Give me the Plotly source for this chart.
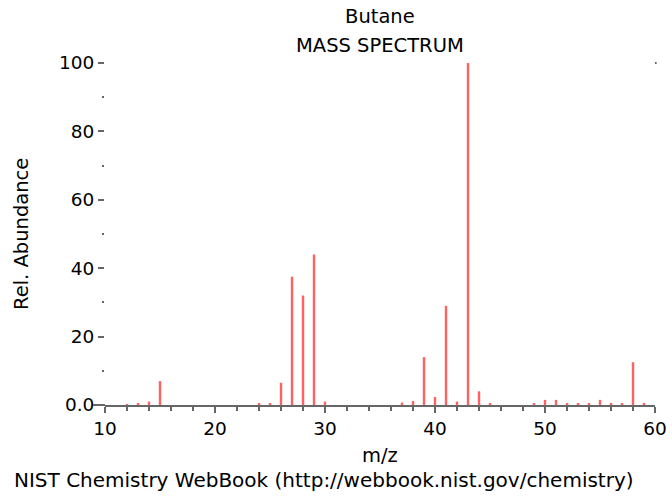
import plotly.graph_objects as go

# m/z values and relative abundances
mz = [12, 13, 14, 15, 24, 25, 26, 27, 28, 29, 30, 37, 38, 39, 40, 41, 42, 43, 44,
      45, 49, 50, 51, 52, 53, 54, 55, 56, 57, 58, 59]
abundance = [0.2, 0.4, 1.0, 7.0, 0.3, 0.6, 6.5, 37.5, 32.0, 44.0, 1.0, 0.7, 1.2,
             14.0, 2.3, 29.0, 1.0, 100.0, 4.0, 0.3, 0.3, 1.5, 1.5, 0.3, 0.6, 0.3,
             1.5, 0.6, 0.3, 12.5, 0.6]

title_line1 = "Butane"
title_line2 = "MASS SPECTRUM"
x_title = "m/z"
y_title = "Rel. Abundance"
footer = "NIST Chemistry WebBook (http://webbook.nist.gov/chemistry)"
y_tickvals = [0, 20, 40, 60, 80, 100]
y_ticktext = ["0.0", "20", "40", "60", "80", "100"]
x_tickvals = [10, 20, 30, 40, 50, 60]

FONT = "DejaVu Sans"
RED = "#ff6262"
GRAY = "#666666"
TXT = 19.5
TICK = 18.5

fig = go.Figure()
fig.add_trace(go.Bar(x=mz, y=abundance, width=0.22,
                     marker=dict(color=RED, line=dict(width=0))))

fig.update_layout(
    width=672, height=499,
    margin=dict(l=105, r=17, t=63, b=94, autoexpand=False),
    paper_bgcolor="white", plot_bgcolor="white",
    showlegend=False,
    font=dict(family=FONT, size=TXT, color="black"),
    xaxis=dict(range=[10, 60], tickvals=x_tickvals, showgrid=False, zeroline=False,
               automargin=False,
               showline=True, linecolor=GRAY, linewidth=2,
               ticks="outside", ticklen=6, tickwidth=2, tickcolor=GRAY,
               minor=dict(dtick=2, ticks="outside", ticklen=4, tickwidth=2, tickcolor=GRAY),
               tickfont=dict(size=TICK)),
    yaxis=dict(range=[0, 100], tickvals=y_tickvals, ticktext=y_ticktext,
               showgrid=False, zeroline=False, showline=False, automargin=False,
               ticks="outside", ticklen=6, tickwidth=2, tickcolor=GRAY,
               minor=dict(tickvals=[10, 30, 50, 70, 90], ticks="outside", ticklen=2,
                          tickwidth=2, tickcolor=GRAY),
               tickfont=dict(size=TICK)),
    shapes=[
        dict(type="line", xref="paper", yref="paper", x0=-12 / 550, x1=0, y0=0, y1=0,
             line=dict(color=GRAY, width=2)),
        dict(type="line", xref="paper", yref="paper", x0=1, x1=1.003, y0=1, y1=1,
             line=dict(color=GRAY, width=2)),
    ],
    annotations=[
        dict(text=title_line1, xref="paper", yref="paper", x=0.5, y=1, yshift=47,
             showarrow=False, xanchor="center", yanchor="middle", font=dict(size=TXT)),
        dict(text=title_line2, xref="paper", yref="paper", x=0.5, y=1, yshift=18,
             showarrow=False, xanchor="center", yanchor="middle", font=dict(size=TXT)),
        dict(text=y_title, xref="paper", yref="paper", x=0, xshift=-84, y=0.5,
             textangle=-90, showarrow=False, xanchor="center", yanchor="middle",
             font=dict(size=TXT)),
        dict(text=x_title, xref="paper", yref="paper", x=0.5, y=0, yshift=-50,
             showarrow=False, xanchor="center", yanchor="middle", font=dict(size=TXT)),
        dict(text=footer, xref="paper", yref="paper", x=0, xshift=-93, y=0, yshift=-75,
             showarrow=False, xanchor="left", yanchor="middle", font=dict(size=20)),
    ],
)

fig.write_html("out.html")
